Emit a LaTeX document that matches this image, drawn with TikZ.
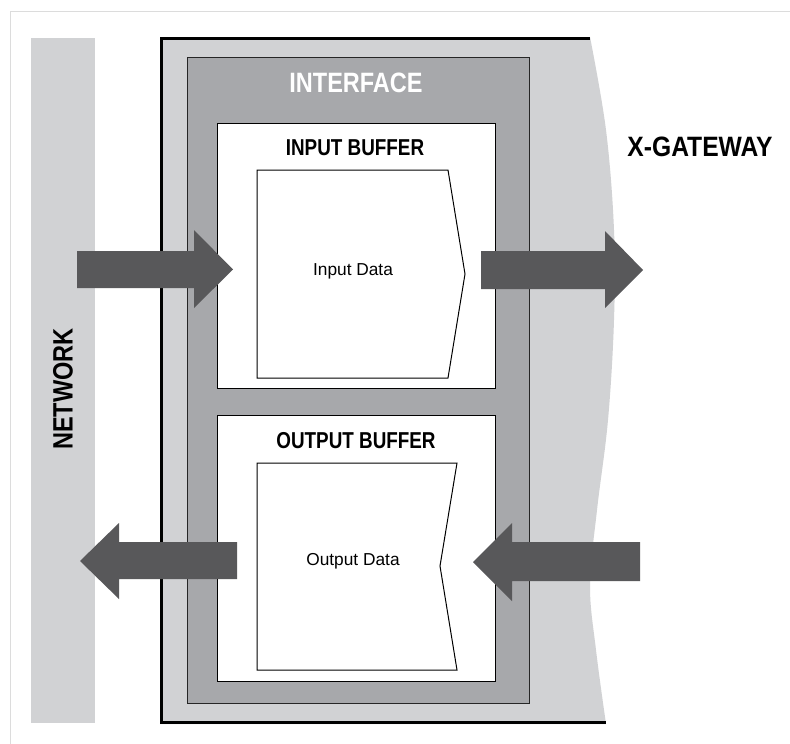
\documentclass[tikz,border=0pt]{standalone}
\usepackage{fontspec}
\setmainfont{Liberation Sans}
\definecolor{lightg}{HTML}{D1D2D4}
\definecolor{midg}{HTML}{A7A8AB}
\definecolor{arrowg}{HTML}{58585A}
\definecolor{frameg}{HTML}{DCDCDC}
\tikzset{
  buffer/.style={draw=black, line width=1pt, fill=white},
  datashape/.style={draw=black, line width=1pt, fill=white},
  blockarrow/.style={fill=arrowg, draw=none},
  title/.style={font=\bfseries\fontsize{23}{25}\selectfont, inner sep=0pt},
  bigtitle/.style={font=\bfseries\fontsize{28}{30}\selectfont, inner sep=0pt},
  datalabel/.style={font=\fontsize{17.3}{19}\selectfont, inner sep=0pt}
}
\begin{document}
\begin{tikzpicture}[x=1pt,y=-1pt]
\useasboundingbox (0,0) rectangle (790,744);
\fill[white] (0,0) rectangle (790,744);
% outer frame (left and top visible)
\draw[frameg, line width=1.5pt] (10.5,750) -- (10.5,11.5) -- (795,11.5);
% network bar
\fill[lightg] (31,38) rectangle (95,723);
\node[bigtitle, rotate=90] (net) at (63,389) {\scalebox{0.84}[1]{NETWORK}};
% gateway
\fill[lightg] (160,37) -- (590,37)
  -- plot[smooth, tension=0.6] coordinates {(590,37) (606,130) (614,230) (614,320) (608,420) (597,510) (590,585) (596,650) (606,724)}
  -- (160,724) -- cycle;
\draw[black, line width=3pt] (590,38.5) -- (161.5,38.5) -- (161.5,722.5) -- (606,722.5);
\node[bigtitle] (gw) at (700,147) {\scalebox{0.88}[1]{X-GATEWAY}};
% interface
\draw[draw=black!85, line width=1.2pt, fill=midg] (187.5,57.5) rectangle (529.5,703.5);
\node[bigtitle, text=white] (iface) at (356,83) {\scalebox{0.84}[1]{INTERFACE}};
% buffers
\draw[buffer] (217.5,123.5) rectangle (495,388.5);
\node[title] (ib) at (355,148) {\scalebox{0.82}[1]{INPUT BUFFER}};
\draw[buffer] (217.5,415.5) rectangle (495,681.5);
\node[title] (ob) at (356,441) {\scalebox{0.82}[1]{OUTPUT BUFFER}};
% data shapes
\draw[datashape] (257,170) -- (448,170) -- (465,274) -- (448,378) -- (257,378) -- cycle;
\node[datalabel] (idata) at (353,271) {Input Data};
\draw[datashape] (257,463) -- (457,463) -- (440,566) -- (457,670) -- (257,670) -- cycle;
\node[datalabel] (odata) at (353,561) {Output Data};
% arrows
\fill[blockarrow] (77,251) -- (194,251) -- (194,230) -- (233,269.5) -- (194,308) -- (194,288) -- (77,288) -- cycle;
\fill[blockarrow] (481,251) -- (605,251) -- (605,231) -- (643,270) -- (605,308) -- (605,289) -- (481,289) -- cycle;
\fill[blockarrow] (237,542) -- (119,542) -- (119,523) -- (80,561) -- (119,599) -- (119,579) -- (237,579) -- cycle;
\fill[blockarrow] (640,542) -- (512,542) -- (512,523) -- (473,562) -- (512,601) -- (512,581) -- (640,581) -- cycle;
\end{tikzpicture}
\end{document}
